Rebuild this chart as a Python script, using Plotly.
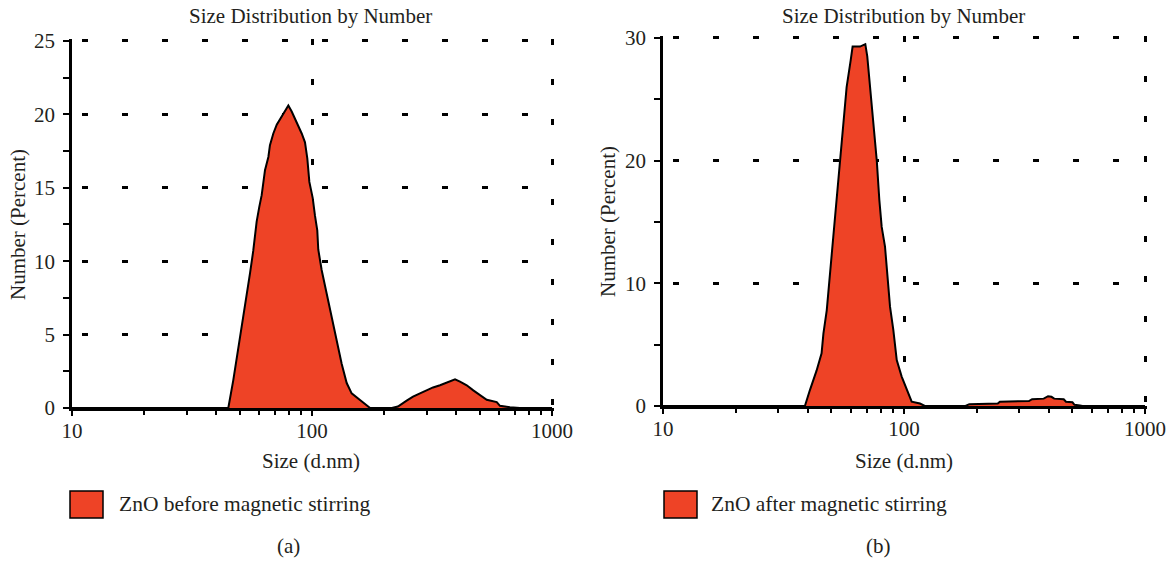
import plotly.graph_objects as go

W, H = 1167, 561

# ---------------- data ----------------
size_before = [10, 44.8, 47.0, 48.5, 50.1, 51.7, 53.5, 55.2, 56.9, 58.8, 60.3, 61.7, 63.7,
               65.8, 66.8, 69.0, 71.3, 74.8, 79.7, 82.3, 86.3, 90.6, 93.5, 95.6, 97.5,
               100.7, 102.9, 105.2, 106.2, 109.7, 115.1, 120.8, 126.7, 133.0, 139.5,
               146.3, 158.5, 169.0, 174.6, 215, 228, 248, 263.6, 281.8, 300.6, 319.4,
               341.5, 364, 394.5, 413.7, 441.3, 470, 501, 534.6, 588.5, 607, 668, 735, 1000]
pct_before = [0, 0, 1.9, 3.3, 4.6, 6.2, 7.8, 9.2, 10.7, 12.7, 13.7, 14.5, 16.2,
              17.1, 17.9, 18.7, 19.3, 19.85, 20.6, 20.2, 19.5, 18.7, 18.1, 17.0, 15.4,
              14.3, 13.1, 12.1, 10.8, 9.4, 7.8, 6.2, 4.6, 3.0, 1.7,
              1.0, 0.54, 0.2, 0, 0, 0.1, 0.5, 0.77, 1.0, 1.2, 1.4,
              1.55, 1.75, 1.95, 1.8, 1.55, 1.2, 0.86, 0.56, 0.4, 0.15, 0.05, 0, 0]

size_after = [10, 38.8, 40.7, 43.4, 45.5, 46.3, 47.8, 49.3, 50.9, 52.6, 54.3, 56.0, 57.8,
              60.1, 61.2, 65.7, 69.1, 70.4, 71.8, 73.4, 75.3, 77.1, 79.0, 80.8, 83.4,
              84.8, 87.5, 90.3, 93.3, 97.8, 102.6, 107.6, 116.5, 122, 180, 186.6, 245,
              250, 330, 340, 380, 396, 409, 420, 460, 470, 500, 510, 537, 550, 1000]
pct_after = [0, 0, 1.3, 2.9, 4.3, 5.9, 7.8, 10.8, 14.1, 17.0, 20.0, 23.3, 26.0,
             28.2, 29.3, 29.3, 29.5, 28.5, 26.6, 24.4, 22.5, 20.0, 16.8, 14.6, 13.0,
             11.35, 8.1, 6.2, 3.75, 2.4, 1.3, 0.35, 0.2, 0, 0, 0.15, 0.2,
             0.35, 0.4, 0.55, 0.6, 0.8, 0.75, 0.6, 0.55, 0.35, 0.3, 0.1, 0.05, 0, 0]

x_major = [10, 100, 1000]
x_major_text = ["10", "100", "1000"]
x_minor = [20, 30, 40, 50, 60, 70, 80, 90, 200, 300, 400, 500, 600, 700, 800, 900]
y_major_a = [0, 5, 10, 15, 20, 25]
y_minor_a = [2.5, 7.5, 12.5, 17.5, 22.5]
y_major_b = [0, 10, 20, 30]
y_minor_b = [5, 15, 25]

title_text = "Size Distribution by Number"
x_title = "Size (d.nm)"
y_title = "Number (Percent)"
legend_a = "ZnO before magnetic stirring"
legend_b = "ZnO after magnetic stirring"

FILL = "#EE4326"
INK = "#231f20"
FONT = "Liberation Serif"
FS = 21

# ---------------- geometry (pixels) ----------------
def px(x):
    return x / W

def py(y):
    return 1 - y / H

# ranges slightly padded so the edge grid lines (1000, top value) are drawn
XR_A = [1, 3.01]
YR_A = [0, 25.15]
XR_B = [1, 3.01]
YR_B = [0, 30.2]

dom_a_x = [px(72), px(552 + 0.01 * 240)]
dom_a_y = [py(408), py(41 - 0.15 * 14.68)]
dom_b_x = [px(663), px(1145 + 0.01 * 241)]
dom_b_y = [py(406), py(38 - 0.2 * 12.27)]

fig = go.Figure()
fig.add_trace(go.Scatter(x=size_before, y=pct_before, mode="lines", fill="tozeroy",
                         fillcolor=FILL, line=dict(color="black", width=2),
                         xaxis="x", yaxis="y", showlegend=False, hoverinfo="skip"))
fig.add_trace(go.Scatter(x=size_after, y=pct_after, mode="lines", fill="tozeroy",
                         fillcolor=FILL, line=dict(color="black", width=2),
                         xaxis="x2", yaxis="y2", showlegend=False, hoverinfo="skip"))

tickfont = dict(family=FONT, size=FS, color=INK)


def xmain(domain, anchor, rng):
    return dict(type="log", range=rng, domain=domain, anchor=anchor, automargin=False,
                tickvals=x_major, ticktext=x_major_text, ticks="outside", ticklen=5,
                tickwidth=2, tickcolor="black", showline=True, linewidth=2.5,
                linecolor="black", showgrid=True, gridcolor="black", gridwidth=2.5,
                griddash="6px,34px", zeroline=False, tickfont=tickfont,
                ticklabelstandoff=-3,
                minor=dict(tickvals=x_minor, ticks="outside", ticklen=4, tickwidth=2,
                           tickcolor="black", showgrid=False),
                fixedrange=True)


def xover(over, anchor, rng):
    return dict(type="log", range=rng, overlaying=over, anchor=anchor, automargin=False,
                tickvals=[100, 1000], ticks="inside", ticklen=7, tickwidth=2,
                tickcolor="black", showticklabels=False, showgrid=False,
                showline=False, zeroline=False,
                minor=dict(tickvals=x_minor, ticks="inside", ticklen=4, tickwidth=2,
                           tickcolor="black", showgrid=False),
                fixedrange=True)


def ymain(domain, anchor, rng, major, minor):
    return dict(range=rng, domain=domain, anchor=anchor, tickvals=major, automargin=False,
                ticks="outside", ticklen=6, tickwidth=2, tickcolor="black",
                showline=True, linewidth=2.5, linecolor="black", showgrid=True,
                gridcolor="black", gridwidth=2.5, griddash="0px,10px,6px,24px",
                zeroline=False, tickfont=tickfont, ticklabelstandoff=4,
                minor=dict(tickvals=minor, ticks="outside", ticklen=6, tickwidth=2,
                           tickcolor="black", showgrid=False),
                fixedrange=True)


def yover(over, anchor, rng, major, minor):
    return dict(range=rng, overlaying=over, anchor=anchor, tickvals=major, automargin=False,
                ticks="inside", ticklen=3, tickwidth=2, tickcolor="black",
                showticklabels=False, showgrid=False, showline=False, zeroline=False,
                minor=dict(tickvals=minor, ticks="inside", ticklen=3, tickwidth=2,
                           tickcolor="black", showgrid=False),
                fixedrange=True)


annotations = []


def ann(text, x, y, size=FS, angle=0, xanchor="center"):
    annotations.append(dict(text=text, x=px(x), y=py(y), xref="paper", yref="paper",
                            showarrow=False, textangle=angle, xanchor=xanchor,
                            yanchor="middle",
                            font=dict(family=FONT, size=size, color=INK)))


# left panel texts
ann(title_text, 310, 16)
ann(x_title, 311, 461)
ann(y_title, 18, 225, angle=-90)
ann(legend_a, 117, 504, size=21.5, xanchor="left")
ann("(a)", 288, 546)
# right panel texts
ann(title_text, 903, 16)
ann(x_title, 904, 461)
ann(y_title, 608, 222, angle=-90)
ann(legend_b, 709, 504, size=21.5, xanchor="left")
ann("(b)", 878, 546)

shapes = [
    dict(type="rect", xref="paper", yref="paper", x0=px(70), x1=px(103), y0=py(518), y1=py(491),
         fillcolor=FILL, line=dict(color="black", width=1.5)),
    dict(type="rect", xref="paper", yref="paper", x0=px(664), x1=px(697), y0=py(518), y1=py(491),
         fillcolor=FILL, line=dict(color="black", width=1.5)),
]

fig.update_layout(
    width=W, height=H, margin=dict(l=0, r=0, t=0, b=0, autoexpand=False),
    paper_bgcolor="white", plot_bgcolor="white",
    xaxis=xmain(dom_a_x, "y", XR_A),
    yaxis=ymain(dom_a_y, "x", YR_A, y_major_a, y_minor_a),
    xaxis2=xmain(dom_b_x, "y2", XR_B),
    yaxis2=ymain(dom_b_y, "x2", YR_B, y_major_b, y_minor_b),
    xaxis3=xover("x", "y", XR_A),
    yaxis3=yover("y", "x", YR_A, y_major_a, y_minor_a),
    xaxis4=xover("x2", "y2", XR_B),
    yaxis4=yover("y2", "x2", YR_B, y_major_b, y_minor_b),
    annotations=annotations, shapes=shapes, showlegend=False,
)

fig.write_html("out.html")
